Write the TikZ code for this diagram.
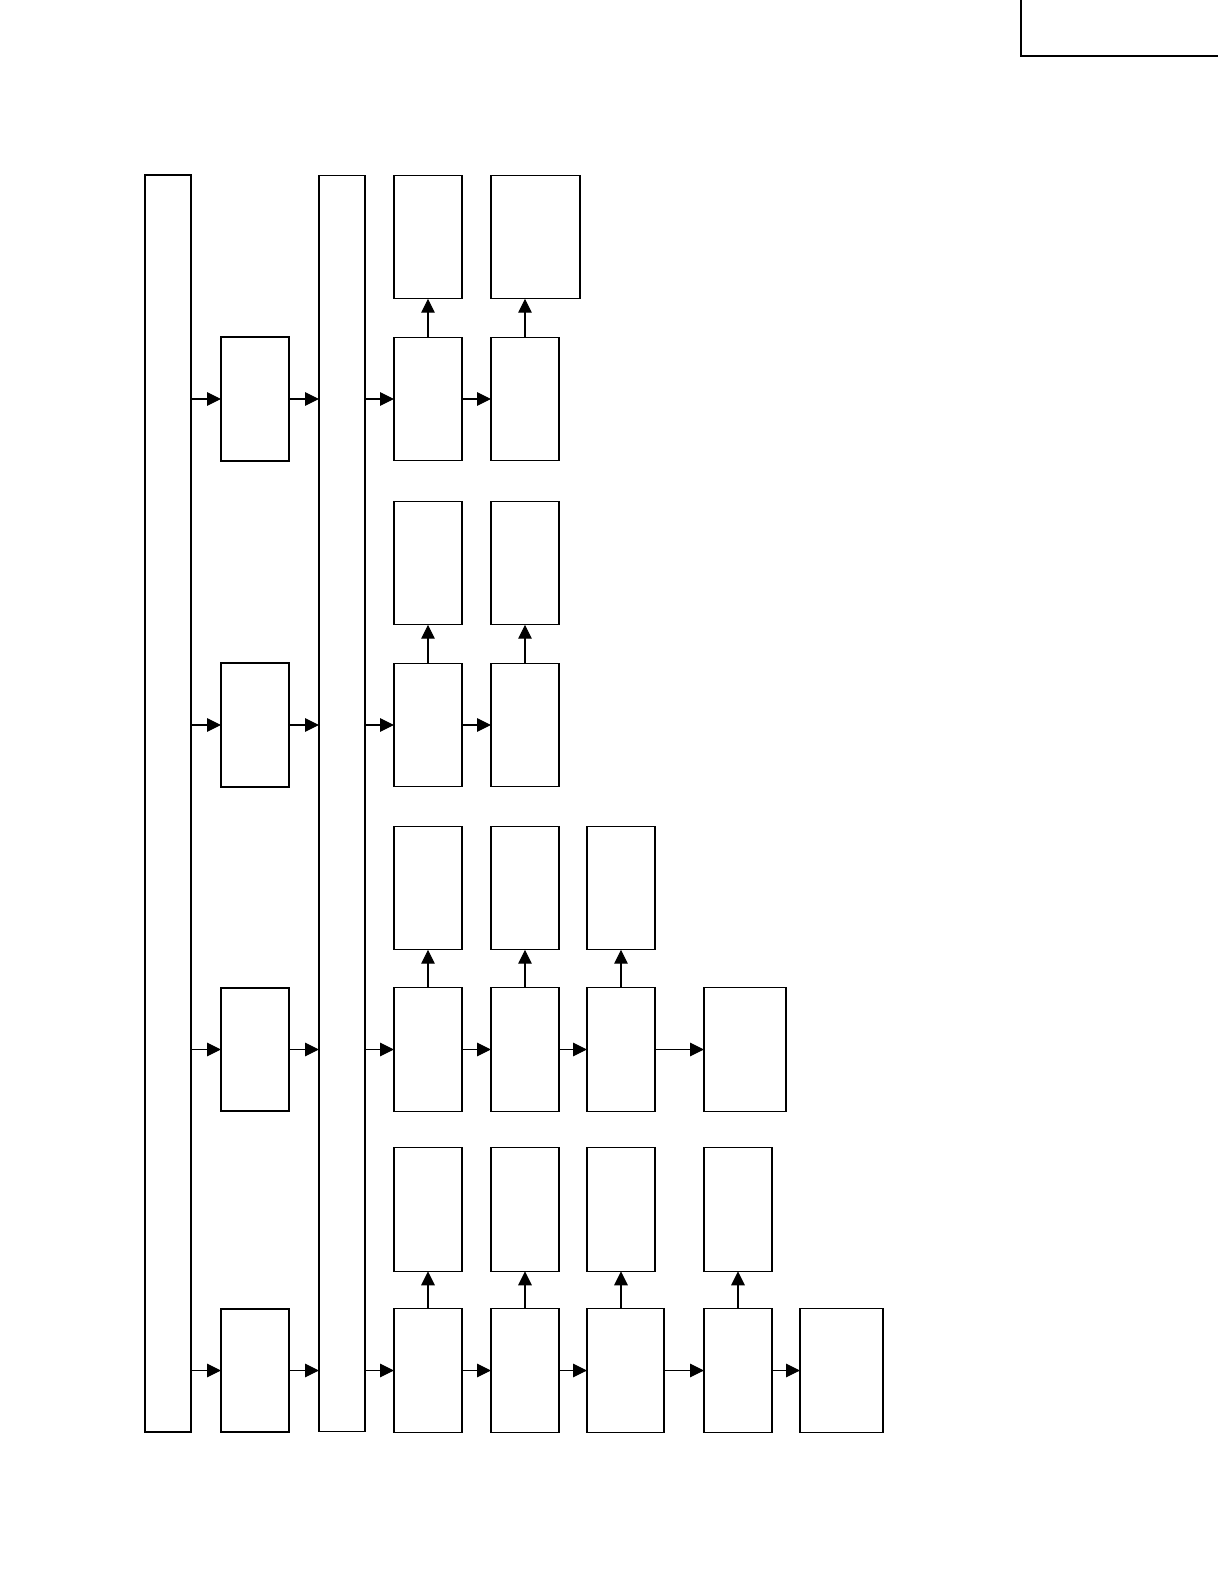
\documentclass[tikz,border=0pt]{standalone}
\usetikzlibrary{arrows.meta}
\tikzset{
  blk/.style={draw, line width=0.6pt, inner sep=0pt, outer sep=0pt, minimum width=1.36cm, minimum height=2.47cm},
  blkg/.style={blk, line width=1.1pt},
  arr/.style={line width=0.6pt, -{Triangle[length=0.28cm, width=0.27cm]}}
}
\begin{document}
\begin{tikzpicture}[x=0.02cm, y=-0.02cm]
    \useasboundingbox (0,0) rectangle (1218,1588);
    % Marco superior derecho
    \draw[line width=1.1pt] (1021,0) -- (1021,56) -- (1218,56);
    % Barras verticales
    \node[blkg, minimum width=0.92cm, minimum height=25.14cm] (izq) at (168,803.5) {};
    \node[blk, minimum width=0.92cm, minimum height=25.14cm] (bus) at (342,803.5) {};
    % Bloques de entrada
    \node[blkg] (e1) at (255,399) {};
    \node[blkg] (e2) at (255,725) {};
    \node[blkg] (e3) at (255,1049.5) {};
    \node[blkg] (e4) at (255,1370.5) {};
    % Fila 1
    \node[blk] (a1) at (428,399) {};
    \node[blk] (a2) at (525,399) {};
    \node[blk] (sa1) at (428,237) {};
    \node[blk, minimum width=1.78cm] (sa2) at (535.5,237) {};
    % Fila 2
    \node[blk] (b1) at (428,725) {};
    \node[blk] (b2) at (525,725) {};
    \node[blk] (sb1) at (428,563) {};
    \node[blk] (sb2) at (525,563) {};
    % Fila 3
    \node[blk] (c1) at (428,1049.5) {};
    \node[blk] (c2) at (525,1049.5) {};
    \node[blk] (c3) at (621,1049.5) {};
    \node[blk, minimum width=1.64cm] (c4) at (745,1049.5) {};
    \node[blk] (sc1) at (428,888) {};
    \node[blk] (sc2) at (525,888) {};
    \node[blk] (sc3) at (621,888) {};
    % Fila 4
    \node[blk] (d1) at (428,1370.5) {};
    \node[blk] (d2) at (525,1370.5) {};
    \node[blk, minimum width=1.54cm] (d3) at (625.5,1370.5) {};
    \node[blk] (d4) at (738,1370.5) {};
    \node[blk, minimum width=1.66cm] (d5) at (841.5,1370.5) {};
    \node[blk] (sd1) at (428,1209.5) {};
    \node[blk] (sd2) at (525,1209.5) {};
    \node[blk] (sd3) at (621,1209.5) {};
    \node[blk] (sd4) at (738,1209.5) {};
    % Flechas horizontales
    \draw[arr] (e1.west -| izq.east) -- (e1.west);
    \draw[arr] (e2.west -| izq.east) -- (e2.west);
    \draw[arr] (e3.west -| izq.east) -- (e3.west);
    \draw[arr] (e4.west -| izq.east) -- (e4.west);
    \draw[arr] (e1.east) -- (e1.east -| bus.west);
    \draw[arr] (e2.east) -- (e2.east -| bus.west);
    \draw[arr] (e3.east) -- (e3.east -| bus.west);
    \draw[arr] (e4.east) -- (e4.east -| bus.west);
    \draw[arr] (a1.west -| bus.east) -- (a1.west);
    \draw[arr] (b1.west -| bus.east) -- (b1.west);
    \draw[arr] (c1.west -| bus.east) -- (c1.west);
    \draw[arr] (d1.west -| bus.east) -- (d1.west);
    \draw[arr] (a1) -- (a2);
    \draw[arr] (b1) -- (b2);
    \draw[arr] (c1) -- (c2);
    \draw[arr] (c2) -- (c3);
    \draw[arr] (c3) -- (c4);
    \draw[arr] (d1) -- (d2);
    \draw[arr] (d2) -- (d3);
    \draw[arr] (d3) -- (d4);
    \draw[arr] (d4) -- (d5);
    % Flechas verticales
    \draw[arr] (a1) -- (sa1);
    \draw[arr] (a2.north) -- (a2.north |- sa2.south);
    \draw[arr] (b1) -- (sb1);
    \draw[arr] (b2) -- (sb2);
    \draw[arr] (c1) -- (sc1);
    \draw[arr] (c2) -- (sc2);
    \draw[arr] (c3) -- (sc3);
    \draw[arr] (d1) -- (sd1);
    \draw[arr] (d2) -- (sd2);
    \draw[arr] (sd3.south |- d3.north) -- (sd3.south);
    \draw[arr] (d4) -- (sd4);
\end{tikzpicture}
\end{document}
